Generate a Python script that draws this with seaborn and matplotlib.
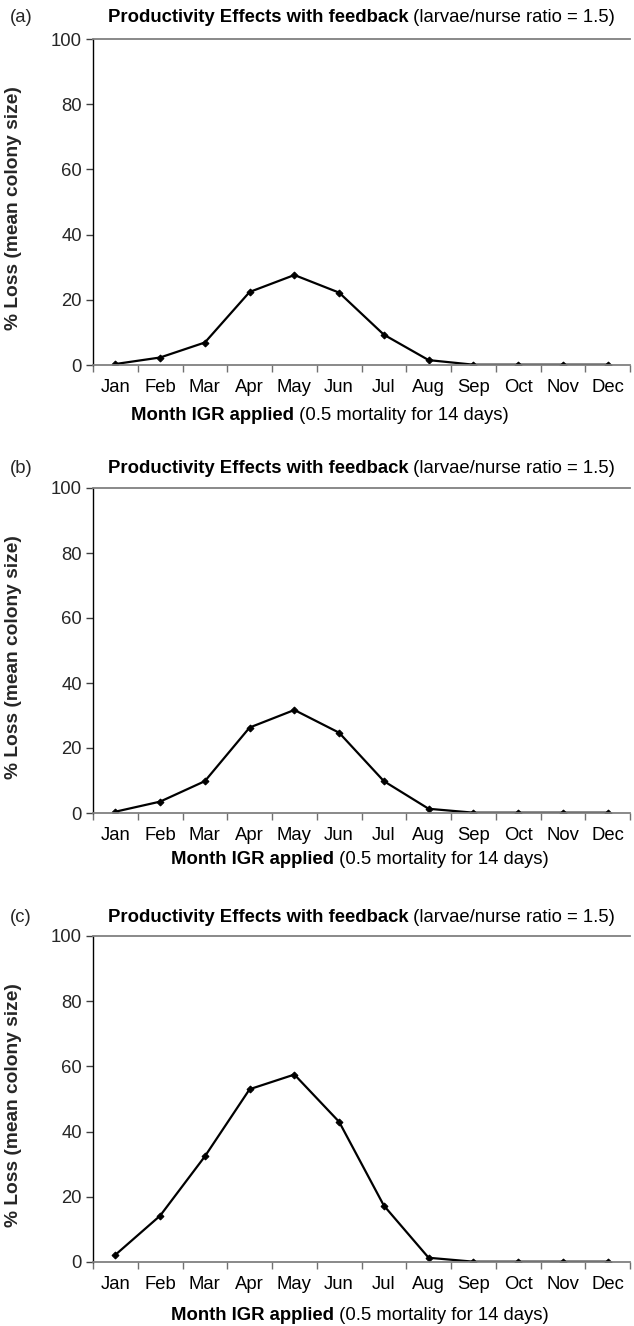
import numpy as np
import pandas as pd
import matplotlib
matplotlib.use("Agg")
import matplotlib.pyplot as plt
from matplotlib import font_manager
import seaborn as sns

months = ["Jan", "Feb", "Mar", "Apr", "May", "Jun", "Jul", "Aug", "Sep", "Oct", "Nov", "Dec"]
loss_a = [0.3, 2.3, 6.9, 22.4, 27.6, 22.2, 9.3, 1.5, 0.1, 0.1, 0.1, 0.1]
loss_b = [0.4, 3.5, 9.8, 26.3, 31.7, 24.7, 9.8, 1.3, 0.1, 0.1, 0.1, 0.1]
loss_c = [2.2, 14.2, 32.4, 53.0, 57.5, 43.0, 17.3, 1.3, 0.1, 0.1, 0.1, 0.1]
panel_labels = ["(a)", "(b)", "(c)"]
title_bold = "Productivity Effects with feedback"
title_normal = "(larvae/nurse ratio = 1.5)"
xlabel_bold = "Month IGR applied"
xlabel_normal = "(0.5 mortality for 14 days)"
ylabel = "% Loss (mean colony size)"
yticks = [0, 20, 40, 60, 80, 100]

sns.set_theme(style="white")
avail = {f.name for f in font_manager.fontManager.ttflist}
fam = "Liberation Sans Narrow" if "Liberation Sans Narrow" in avail else "Liberation Sans"
plt.rcParams["font.family"] = [fam, "DejaVu Sans"]

W, H = 634, 1326
fig = plt.figure(figsize=(W / 100, H / 100), dpi=100)

# pixel layout per panel: axes top, axes bottom, title y, xlabel y, xlabel center x
layout = [
    dict(top=39, bot=365, title_y=18, xl_y=416, xl_x=320),
    dict(top=488, bot=813, title_y=468, xl_y=859, xl_x=360),
    dict(top=936, bot=1262, title_y=917, xl_y=1316, xl_x=360),
]
ax_left, ax_right = 93, 630
FS = 13.3
FS_Y = 13.8

renderer = fig.canvas.get_renderer()


def mixed_text(xc, y, bold, normal, size):
    t1 = fig.text(0, 0, bold, weight="bold", size=size, ha="left", va="center", color="black")
    t2 = fig.text(0, 0, " " + normal, size=size, ha="left", va="center", color="black")
    w1 = t1.get_window_extent(renderer).width
    w2 = t2.get_window_extent(renderer).width
    x0 = xc - (w1 + w2) / 2
    t1.set_position((x0 / W, 1 - y / H))
    t2.set_position(((x0 + w1) / W, 1 - y / H))


for i, (vals, lab, L) in enumerate(zip([loss_a, loss_b, loss_c], panel_labels, layout)):
    ax = fig.add_axes([ax_left / W, 1 - L["bot"] / H, (ax_right - ax_left) / W, (L["bot"] - L["top"]) / H])
    df = pd.DataFrame({"month": months, "loss": vals})
    sns.lineplot(data=df, x="month", y="loss", ax=ax, color="black", linewidth=1.6,
                 marker="D", markersize=3.5, markeredgecolor="black", sort=False)
    ax.set_xlim(-0.5, len(months) - 0.5)
    ax.set_ylim(0, 100)
    ax.set_yticks(yticks)
    ax.set_yticklabels([str(v) for v in yticks], fontsize=FS)
    ax.set_xticks(range(len(months)))
    ax.set_xticklabels(months, fontsize=FS)
    ax.set_xticks(np.arange(-0.5, len(months), 1.0), minor=True)
    ax.tick_params(axis="x", which="major", length=0, pad=10, colors="black")
    ax.tick_params(axis="x", which="minor", length=5, width=1, color="#707070", direction="out", bottom=True)
    ax.tick_params(axis="y", which="major", length=5, width=1, color="#404040", direction="out", left=True, pad=3)
    ax.set_xlabel("")
    ax.set_ylabel(ylabel, fontsize=FS_Y, fontweight="bold")
    ax.yaxis.set_label_coords(-(ax_left - 22) / (ax_right - ax_left), 0.48)
    ax.spines["left"].set_color("black")
    ax.spines["left"].set_linewidth(1.0)
    for s in ["top", "bottom"]:
        ax.spines[s].set_color("#808080")
        ax.spines[s].set_linewidth(1.3)
    ax.spines["right"].set_visible(False)
    ax.grid(False)

    fig.text(10 / W, 1 - L["title_y"] / H, lab, fontsize=FS, ha="left", va="center")
    mixed_text((ax_left + ax_right) / 2, L["title_y"], title_bold, title_normal, FS)
    mixed_text(L["xl_x"], L["xl_y"], xlabel_bold, xlabel_normal, FS)

fig.savefig("out.png", dpi=100)
